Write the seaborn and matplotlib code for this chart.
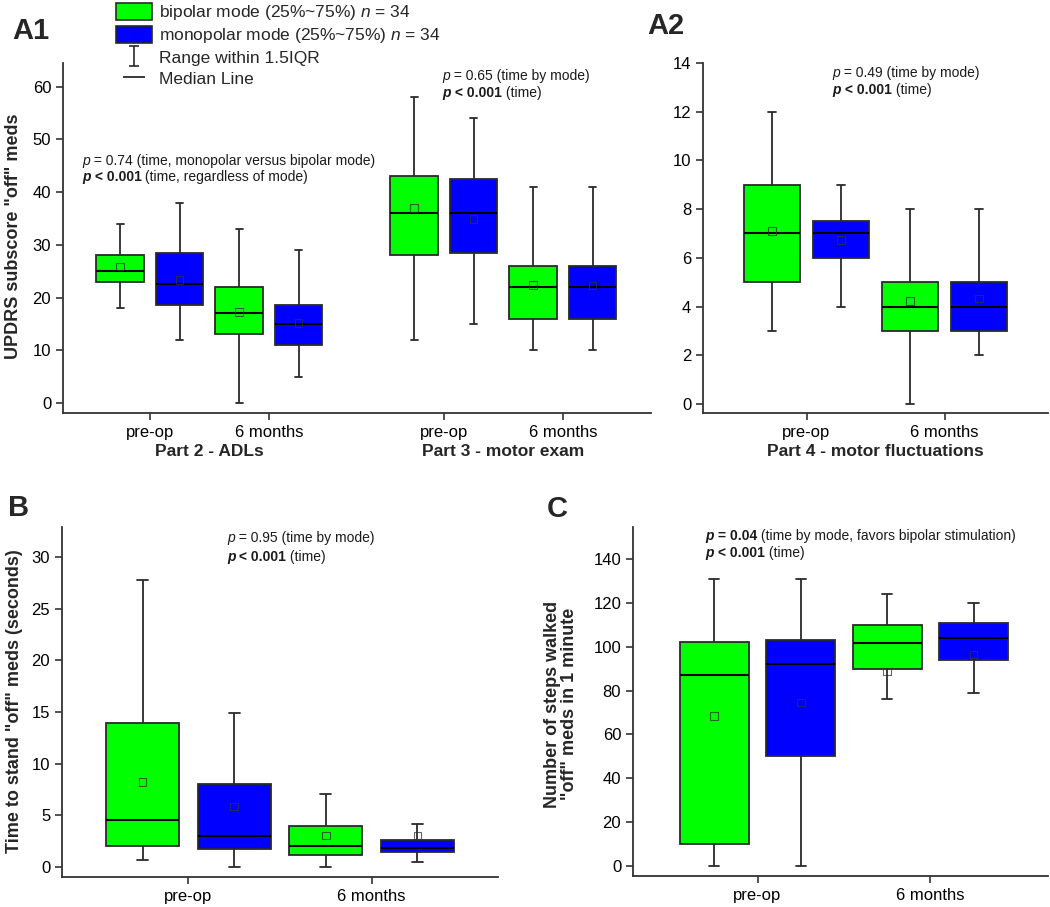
import numpy as np
import pandas as pd
import matplotlib
matplotlib.use("Agg")
import matplotlib.pyplot as plt
from matplotlib.patches import Patch
from matplotlib.lines import Line2D
from matplotlib.path import Path
from matplotlib.offsetbox import TextArea, HPacker, AnnotationBbox
import seaborn as sns

# five-number summaries per box: [lower whisker, q1, median, q3, upper whisker]
modes = ["bipolar", "monopolar"]
mode_colors = {"bipolar": "#00FF00", "monopolar": "#0000FF"}
time_labels = ["pre-op", "6 months"]

# A1 - Part 2 (ADLs) and Part 3 (motor exam), order: P2 pre, P2 6m, P3 pre, P3 6m
a1_positions = [0, 1, 2.47, 3.47]
a1_bipolar = [[18, 23, 25, 28, 34], [0, 13, 17, 22, 33],
              [12, 28, 36, 43, 58], [10, 16, 22, 26, 41]]
a1_monopolar = [[12, 18.5, 22.5, 28.5, 38], [5, 11, 15, 18.5, 29],
                [15, 28.5, 36, 42.5, 54], [10, 16, 22, 26, 41]]
a1_bipolar_means = [25.9, 17.3, 37.0, 22.4]
a1_monopolar_means = [23.3, 15.2, 34.9, 22.3]

# A2 - Part 4 (motor fluctuations)
a2_positions = [0, 1]
a2_bipolar = [[3, 5, 7, 9, 12], [0, 3, 4, 5, 8]]
a2_monopolar = [[4, 6, 7, 7.5, 9], [2, 3, 4, 5, 8]]
a2_bipolar_means = [7.1, 4.23]
a2_monopolar_means = [6.74, 4.33]

# B - time to stand
b_positions = [0, 1]
b_bipolar = [[0.65, 2.0, 4.55, 13.9, 27.8], [0, 1.2, 2.0, 4.0, 7.1]]
b_monopolar = [[0, 1.7, 3.0, 8.0, 14.9], [0.5, 1.45, 1.8, 2.65, 4.2]]
b_bipolar_means = [8.2, 3.03]
b_monopolar_means = [5.84, 3.06]

# C - steps walked in 1 minute
c_positions = [0, 1]
c_bipolar = [[0, 10, 87, 102, 131], [76, 90, 101.5, 110, 124]]
c_monopolar = [[0, 50, 92, 103, 131], [79, 94, 104, 111, 120]]
c_bipolar_means = [68.4, 88.6]
c_monopolar_means = [74.6, 96.4]

line_col = "#2a2a2a"
note_size = 10


def long_frame(positions, bipolar, monopolar):
    rows = []
    for p, b, m in zip(positions, bipolar, monopolar):
        rows += [(p, "bipolar", v) for v in b]
        rows += [(p, "monopolar", v) for v in m]
    return pd.DataFrame(rows, columns=["pos", "mode", "value"])


def mean_frame(positions, bi_means, mono_means):
    offsets = {"bipolar": -0.25, "monopolar": 0.25}
    rows = [(p + offsets["bipolar"], "bipolar", v) for p, v in zip(positions, bi_means)]
    rows += [(p + offsets["monopolar"], "monopolar", v) for p, v in zip(positions, mono_means)]
    return pd.DataFrame(rows, columns=["x", "mode", "mean"])


def draw_panel(ax, positions, bipolar, monopolar, bi_means, mono_means):
    df = long_frame(positions, bipolar, monopolar)
    sns.boxplot(data=df, x="pos", y="value", hue="mode", hue_order=modes,
                native_scale=True, whis=(0, 100), width=1.0, gap=0.2,
                palette=mode_colors, saturation=1, linecolor=line_col, linewidth=1.3,
                fliersize=0, legend=False, ax=ax, capwidths=0.06,
                medianprops=dict(color="black", linewidth=1.5))
    mdf = mean_frame(positions, bi_means, mono_means)
    sns.scatterplot(data=mdf, x="x", y="mean", marker="s", s=30,
                    facecolor="none", edgecolor="#333333", linewidth=0.8,
                    alpha=0.75, legend=False, ax=ax, zorder=6)
    ax.set_xlabel("")
    ax.set_ylabel("")
    sns.despine(ax=ax)
    for side in ["left", "bottom"]:
        ax.spines[side].set_color("#333333")
        ax.spines[side].set_linewidth(1.3)
    ax.tick_params(axis="both", length=5, width=1.2, color="#333333",
                   labelsize=12, labelcolor="black")


IT = dict(fontstyle="italic")
BIT = dict(fontstyle="italic", fontweight="bold")
BF = dict(fontweight="bold")
RM = dict()


def rich_line(ax, x, y, parts):
    boxes = [TextArea(s, textprops=dict(fontsize=note_size, color="#1a1a1a", **st))
             for s, st in parts]
    pack = HPacker(children=boxes, align="baseline", pad=0, sep=0)
    ab = AnnotationBbox(pack, (x, y), xycoords="data", box_alignment=(0, 0.5),
                        frameon=False, pad=0, annotation_clip=False)
    ax.add_artist(ab)


def p_time(rest):
    return [("p", BIT), (" < 0.001", BF), (rest, RM)]


sns.set_style("ticks")
plt.rcParams["font.family"] = ["Liberation Sans", "DejaVu Sans"]
plt.rcParams["mathtext.fontset"] = "custom"
plt.rcParams["mathtext.rm"] = "Liberation Sans"
plt.rcParams["mathtext.it"] = "Liberation Sans:italic"
plt.rcParams["mathtext.bf"] = "Liberation Sans:bold"

W, H = 1050, 907
fig = plt.figure(figsize=(W / 100, H / 100), dpi=100)


def px_axes(left, right, top, bottom):
    return fig.add_axes([left / W, 1 - bottom / H, (right - left) / W, (bottom - top) / H])


ax_a1 = px_axes(63, 651, 63, 413)
ax_a2 = px_axes(703, 1048, 63, 413)
ax_b = px_axes(62, 498, 527, 877)
ax_c = px_axes(633, 1048, 527, 876)

# A1
draw_panel(ax_a1, a1_positions, a1_bipolar, a1_monopolar, a1_bipolar_means, a1_monopolar_means)
ax_a1.set_xlim(-0.73, 4.21)
ax_a1.set_ylim(-1.9, 64.5)
ax_a1.set_yticks(np.arange(0, 61, 10))
ax_a1.set_xticks(a1_positions)
ax_a1.set_xticklabels(time_labels * 2)
trans = ax_a1.get_xaxis_transform()
ax_a1.text(0.5, -0.111, "Part 2 - ADLs", transform=trans, ha="center", va="center",
           fontsize=12.5, fontweight="bold")
ax_a1.text(2.97, -0.111, "Part 3 - motor exam", transform=trans, ha="center", va="center",
           fontsize=12.5, fontweight="bold")
rich_line(ax_a1, -0.57, 45.9, [("p", IT), (" = 0.74 (time, monopolar versus bipolar mode)", RM)])
rich_line(ax_a1, -0.57, 42.8, p_time(" (time, regardless of mode)"))
rich_line(ax_a1, 2.46, 62.0, [("p", IT), (" = 0.65 (time by mode)", RM)])
rich_line(ax_a1, 2.46, 58.8, p_time(" (time)"))

# A2
draw_panel(ax_a2, a2_positions, a2_bipolar, a2_monopolar, a2_bipolar_means, a2_monopolar_means)
ax_a2.set_xlim(-0.75, 1.75)
ax_a2.set_ylim(-0.37, 14.0)
ax_a2.set_yticks(np.arange(0, 15, 2))
ax_a2.set_xticks(a2_positions)
ax_a2.set_xticklabels(time_labels)
ax_a2.text(0.5, -0.111, "Part 4 - motor fluctuations", transform=ax_a2.get_xaxis_transform(),
           ha="center", va="center", fontsize=12.5, fontweight="bold")
rich_line(ax_a2, 0.19, 13.6, [("p", IT), (" = 0.49 (time by mode)", RM)])
rich_line(ax_a2, 0.19, 12.9, p_time(" (time)"))

# B
draw_panel(ax_b, b_positions, b_bipolar, b_monopolar, b_bipolar_means, b_monopolar_means)
ax_b.set_xlim(-0.69, 1.69)
ax_b.set_ylim(-0.97, 32.9)
ax_b.set_yticks(np.arange(0, 31, 5))
ax_b.set_xticks(b_positions)
ax_b.set_xticklabels(time_labels)
rich_line(ax_b, 0.21, 31.8, [("p", IT), (" = 0.95 (time by mode)", RM)])
rich_line(ax_b, 0.21, 30.0, p_time(" (time)"))

# C
draw_panel(ax_c, c_positions, c_bipolar, c_monopolar, c_bipolar_means, c_monopolar_means)
ax_c.set_xlim(-0.72, 1.68)
ax_c.set_ylim(-4.6, 154.6)
ax_c.set_yticks(np.arange(0, 141, 20))
ax_c.set_xticks(c_positions)
ax_c.set_xticklabels(time_labels)
rich_line(ax_c, -0.30, 150.7, [("p", BIT), (" = 0.04", BF),
                               (" (time by mode, favors bipolar stimulation)", RM)])
rich_line(ax_c, -0.30, 142.9, p_time(" (time)"))

# y labels
fig.text(14 / W, 1 - 236 / H, 'UPDRS subscore "off" meds', rotation=90, ha="center",
         va="center", fontsize=13, fontweight="bold")
fig.text(15 / W, 1 - 701 / H, 'Time to stand "off" meds (seconds)', rotation=90, ha="center",
         va="center", fontsize=13, fontweight="bold")
fig.text(561 / W, 1 - 704 / H, 'Number of steps walked\n"off" meds in 1 minute', rotation=90,
         ha="center", va="center", fontsize=13, fontweight="bold", linespacing=1.0)

# panel letters
for label, x, y in [("A1", 12, 31), ("A2", 647, 26), ("B", 8, 508), ("C", 547, 509)]:
    fig.text(x / W, 1 - y / H, label, fontsize=21, fontweight="bold", ha="left", va="center")

# legend
range_marker = Path([(-0.45, 1), (0.45, 1), (0, 1), (0, -1), (-0.45, -1), (0.45, -1)],
                    [Path.MOVETO, Path.LINETO, Path.MOVETO, Path.LINETO, Path.MOVETO, Path.LINETO])
handles = [
    Patch(facecolor=mode_colors["bipolar"], edgecolor=line_col, linewidth=1.2),
    Patch(facecolor=mode_colors["monopolar"], edgecolor=line_col, linewidth=1.2),
    Line2D([], [], linestyle="none", marker=range_marker, markersize=15,
           markeredgewidth=1.2, color=line_col),
    Line2D([], [], linestyle="none", marker="_", markersize=16, markeredgewidth=1.3, color=line_col),
]
labels = ["bipolar mode (25%~75%) $n$ = 34", "monopolar mode (25%~75%) $n$ = 34",
          "Range within 1.5IQR", "Median Line"]
fig.legend(handles, labels, loc="upper left", bbox_to_anchor=(116 / W, 1 - 3 / H),
           frameon=False, fontsize=12.5, handlelength=2.1, handleheight=1.1,
           handletextpad=0.4, labelspacing=0.22, borderpad=0, borderaxespad=0)

fig.savefig("out.png", dpi=100)
